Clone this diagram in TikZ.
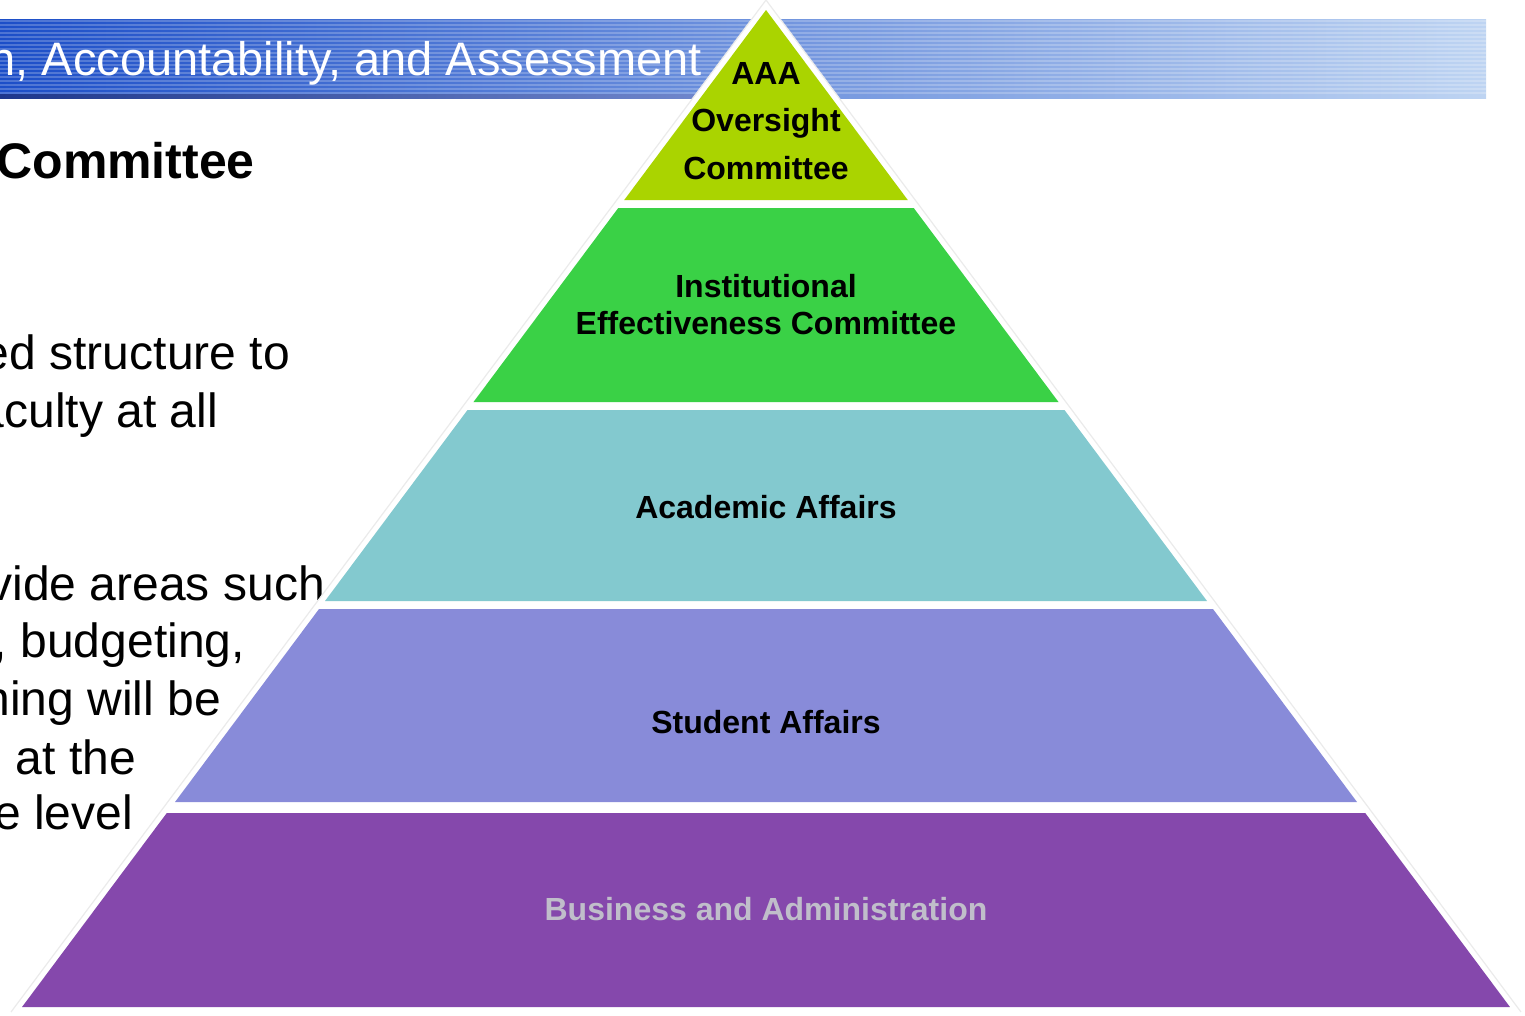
\documentclass[tikz,border=0pt]{standalone}
\usepackage{fontspec}
\setmainfont{Liberation Sans}
\usetikzlibrary{positioning}

\begin{document}
\begin{tikzpicture}[x=1pt, y=-1pt]
    % Define colors
    \definecolor{bannerdark}{RGB}{28, 78, 200}
    \definecolor{bannermid}{RGB}{125, 148, 215}
    \definecolor{bannerlight}{RGB}{190, 212, 242}
    \definecolor{bannernavy}{RGB}{30, 55, 140}
    \definecolor{tipgreen}{RGB}{170, 212, 0}
    \definecolor{iegreen}{RGB}{58, 209, 70}
    \definecolor{acadteal}{RGB}{131, 201, 207}
    \definecolor{studblue}{RGB}{136, 139, 217}
    \definecolor{busviolet}{RGB}{133, 72, 172}
    \definecolor{busgray}{RGB}{192, 190, 202}

    % Page frame, one unit is one pixel of the slide
    \useasboundingbox (0, 0) rectangle (1525, 1015);
    \clip (0, 0) rectangle (1525, 1015);

    % Title banner with its thin stripes
    \shade[left color=bannerdark, middle color=bannermid, right color=bannerlight] (0, 19) rectangle (1486, 98);
    \foreach \s in {21, 25, ..., 93}
      \draw[white, opacity=0.22, line width=1.6] (0, \s) -- (1486, \s);
    \shade[left color=bannernavy, right color=bannermid] (0, 94) rectangle (820, 98);
    \node[anchor=base east, text=white, font=\fontsize{47}{56}\selectfont, inner sep=0] (bannertext) at (702, 75) {n, Accountability, and Assessment};

    % Slide text on the left
    \node[anchor=base east, font=\bfseries\fontsize{50}{60}\selectfont, inner sep=0] (slidehead) at (255, 178) {Committee};
    \tikzset{slideline/.style={anchor=base east, font=\fontsize{48}{58}\selectfont, inner sep=0}}
    \node[slideline] (lineA) at (290, 369) {ed structure to};
    \node[slideline] (lineB) at (218, 427) {aculty at all};
    \node[slideline] (lineC) at (325, 600) {vide areas such};
    \node[slideline] (lineD) at (245, 657) {, budgeting,};
    \node[slideline] (lineE) at (221, 715) {ning will be};
    \node[slideline] (lineF) at (136, 774) {d at the};
    \node[slideline] (lineG) at (133, 829) {e level};

    % White pyramid behind the layers
    \fill[white] (766, 0) -- (1521, 1012) -- (11, 1012) -- cycle;
    \draw[black!8, line width=1.2] (11, 1012) -- (766, 0) -- (1521, 1012);

    % Define a macro to draw one layer between two heights
    \def\drawLayer#1#2#3{ % #1 = top y, #2 = bottom y, #3 = colour
      \pgfmathsetmacro{\wtop}{0.7462*(#1-10)} % half width at the top
      \pgfmathsetmacro{\wbot}{0.7462*(#2-10)} % half width at the bottom
      \fill[#3] (766-\wtop, #1) -- (766+\wtop, #1) -- (766+\wbot, #2) -- (766-\wbot, #2) -- cycle;
    }

    % Layers from the tip down
    \drawLayer{10}{200}{tipgreen}
    \drawLayer{208}{402}{iegreen}
    \drawLayer{410}{601}{acadteal}
    \drawLayer{609}{802}{studblue}
    \drawLayer{813}{1007}{busviolet}

    % Layer labels
    \tikzset{layertext/.style={font=\bfseries\fontsize{32}{47.5}\selectfont, align=center, inner sep=0}}
    \node[layertext] (aaa) at (766, 121) {AAA\\Oversight\\Committee};
    \node[layertext, font=\bfseries\fontsize{32}{37}\selectfont] (iec) at (766, 304.5) {Institutional\\Effectiveness Committee};
    \node[layertext, anchor=base] (acad) at (766, 518) {Academic Affairs};
    \node[layertext, anchor=base] (stud) at (766, 733) {Student Affairs};
    \node[layertext, anchor=base, text=busgray] (bus) at (766, 920) {Business and Administration};
  \end{tikzpicture}
\end{document}
